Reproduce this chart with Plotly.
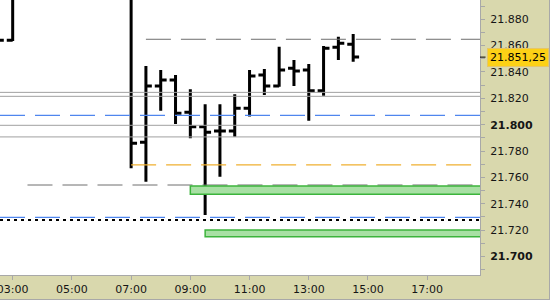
import plotly.graph_objects as go

DAY = "2024-01-01 "

# ---- OHLC data (30-minute bars) ----
bar_times = ["02:30", "03:00", "07:00", "07:30", "08:00", "08:30", "09:00", "09:30",
             "10:00", "10:30", "11:00", "11:30", "12:00", "12:30", "13:00", "13:30",
             "14:00", "14:30"]
opens  = [21850, 21864, 21905, 21786.6, 21829.4, 21833.9, 21809.4, 21798.5,
          21795.2, 21795.2, 21812.4, 21837.7, 21829.4, 21842.8, 21841.5, 21825.8,
          21858.7, 21861.0]
highs  = [21866, 21920, 21920, 21844.6, 21841.5, 21837.7, 21826.9, 21815.5,
          21815.5, 21823.1, 21841.5, 21842.3, 21859.2, 21849.1, 21846.1, 21859.7,
          21866.8, 21868.8]
lows   = [21845, 21863.5, 21766.9, 21756.7, 21810.6, 21800.5, 21789.7, 21731.5,
          21760.5, 21790.9, 21806.1, 21822.5, 21828.8, 21829.4, 21803.0, 21822.0,
          21849.1, 21847.8]
closes = [21864, 21905, 21785.9, 21829.4, 21833.9, 21808.6, 21798.5, 21794.2,
          21795.2, 21812.4, 21837.0, 21829.4, 21841.5, 21840.8, 21825.8, 21858.0,
          21861.8, 21851.25]

# ---- horizontal levels ----
level_values = [21864.8, 21824.5, 21821.5, 21807.1, 21799.5, 21790.7, 21769.4, 21754.2, 21729.7, 21727.7]
level_starts = ["07:30", None, None, None, None, None, "07:00", "03:30", None, None]
level_kinds  = ["gray_dash", "gray", "gray", "blue_dash", "gray", "gray", "orange_dash", "gray_dash", "blue_dash", "black_dot"]

# ---- zones ----
zone_lows   = [21747.2, 21715.0]
zone_highs  = [21753.5, 21720.1]
zone_starts = ["09:00", "09:30"]

last_price = 21851.25
last_price_text = "21.851,25"

# ---- axis ticks ----
ytick_values = list(range(21690, 21900, 10))
bold_ticks = [21700, 21800]

X_START = DAY + "02:34:18"
X_END = DAY + "18:47:00"
Y_RANGE = [21685.9, 21894.6]

styles = {
    "gray_dash":   dict(color="#6e6e6e", width=1, dash="25px,10px"),
    "gray":        dict(color="#a0a0a0", width=1),
    "blue_dash":   dict(color="#4f86ee", width=1.2, dash="25px,10px"),
    "orange_dash": dict(color="#f0b030", width=1.2, dash="25px,10px"),
    "black_dot":   dict(color="#000000", width=2, dash="3px,4px"),
}

fig = go.Figure()

for val, start, kind in zip(level_values, level_starts, level_kinds):
    x0 = DAY + start if start else X_START
    fig.add_trace(go.Scatter(x=[x0, X_END], y=[val, val], mode="lines",
                             line=styles[kind], hoverinfo="skip", showlegend=False))

for lo, hi, st in zip(zone_lows, zone_highs, zone_starts):
    fig.add_shape(type="rect", xref="x", yref="y", x0=DAY + st, x1=DAY + "20:00",
                  y0=lo, y1=hi, fillcolor="#a8e0a4", line=dict(color="#3cb43c", width=1.5),
                  layer="above")

fig.add_trace(go.Ohlc(
    x=[DAY + t for t in bar_times], open=opens, high=highs, low=lows, close=closes,
    increasing=dict(line=dict(color="black", width=3)),
    decreasing=dict(line=dict(color="black", width=3)),
    tickwidth=0.4, showlegend=False, hoverinfo="skip"))

def fmt(v):
    s = f"{v:,}".replace(",", ".")
    return f"<b>{s}</b>" if v in bold_ticks else s

ytick_text = [fmt(v) if v % 20 == 0 else "" for v in ytick_values]

fig.update_layout(
    width=550, height=300,
    margin=dict(l=0, r=70, t=0, b=25, autoexpand=False),
    paper_bgcolor="#d9d8ad", plot_bgcolor="white",
    font=dict(family="DejaVu Sans", size=11, color="#151515"),
    showlegend=False,
    xaxis=dict(type="date", range=[X_START, X_END], rangeslider=dict(visible=False),
               tick0=DAY + "03:00", dtick=7200000, tickformat="%H:%M",
               ticks="outside", ticklen=4, tickcolor="#a8a8a8", automargin=False,
               showgrid=False, zeroline=False, showline=True, linecolor="#a8a8a8",
               linewidth=1, tickfont=dict(size=11), ticklabeloverflow="allow"),
    yaxis=dict(range=Y_RANGE, side="right", tickmode="array", tickvals=ytick_values,
               ticktext=ytick_text, ticks="outside", ticklen=4, tickcolor="#a8a8a8",
               automargin=False,
               showgrid=False, zeroline=False, showline=True, linecolor="#a8a8a8",
               linewidth=1, tickfont=dict(size=11), ticklabelstandoff=3),
)

# last price marker and label
fig.add_shape(type="line", xref="paper", yref="y", x0=1.0, x1=1.0115,
              y0=last_price, y1=last_price, line=dict(color="black", width=1))
fig.add_annotation(xref="paper", yref="y", x=1.0, y=last_price, xanchor="left",
                   yanchor="middle", xshift=7, text=last_price_text, showarrow=False,
                   bgcolor="#fcd116", bordercolor="#e6c667", borderwidth=1, borderpad=2,
                   font=dict(family="DejaVu Sans", size=11, color="black"))

# outer frame (bottom and right edges)
fig.add_shape(type="line", xref="paper", yref="paper", x0=0, x1=1.146,
              y0=-0.0891, y1=-0.0891, line=dict(color="#a8a8a8", width=1))
fig.add_shape(type="line", xref="paper", yref="paper", x0=1.1448, x1=1.1448,
              y0=-0.0909, y1=1.0, line=dict(color="#a8a8a8", width=1))

fig.write_html("out.html")
